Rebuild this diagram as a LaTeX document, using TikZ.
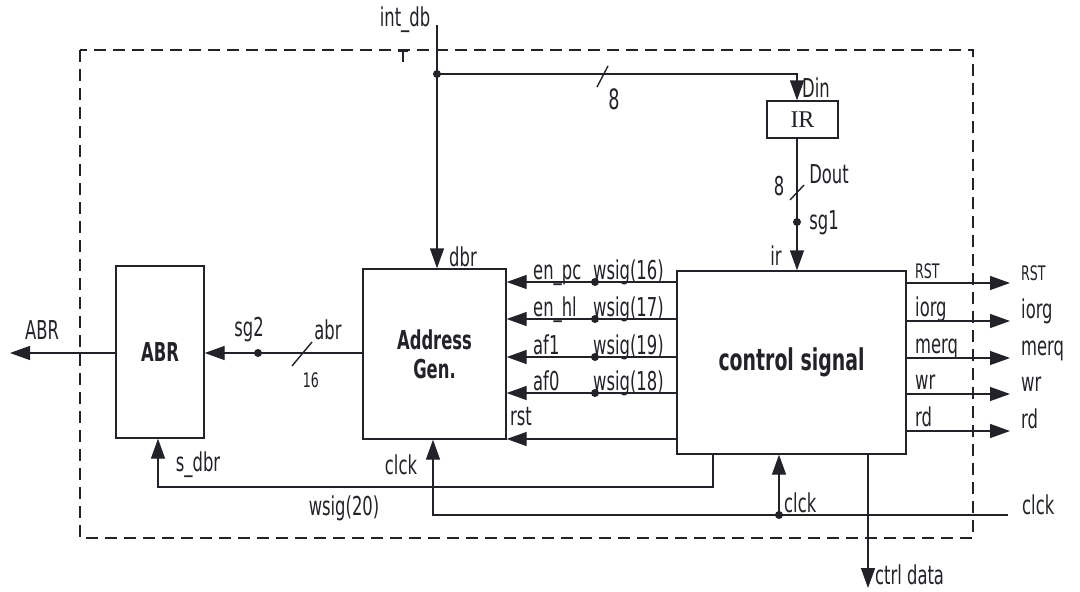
\documentclass[tikz,border=0pt]{standalone}
\usepackage{fontspec}
\setmainfont{DejaVu Sans}[FakeStretch=0.63]
\newfontfamily\irfont{Liberation Serif}
\usetikzlibrary{arrows.meta}
\definecolor{ink}{RGB}{34,34,40}
\begin{document}
\begin{tikzpicture}[x=1pt,y=-1pt,
  wire/.style={line width=1.4pt, draw=ink},
  arr/.style={wire, -{Triangle[length=20pt,width=14pt]}},
  box/.style={draw=ink, line width=1.4pt, inner sep=0pt, text=ink},
  lbl/.style={inner sep=0pt, text=ink, font=\fontsize{26}{28}\selectfont},
  small/.style={inner sep=0pt, text=ink, font=\fontsize{20}{22}\selectfont},
  boldlbl/.style={font=\bfseries\fontsize{26}{29}\selectfont, align=center},
  dot/.style={circle, fill=ink, inner sep=0pt, minimum size=8pt},
  frame/.style={draw=ink, line width=1.3pt, dash pattern=on 12pt off 7pt}
]
\useasboundingbox[fill=white] (0,0) rectangle (1080,592);

% dashed frame
\draw[frame] (80,50) rectangle (973,538);
\draw[wire, line width=1.1pt] (398,51) -- (408,51) (403,51) -- (403,62);

% blocks
\node[box, boldlbl, minimum width=88pt, minimum height=172pt] (abr) at (160,352) {ABR};
\node[box, boldlbl, minimum width=143pt, minimum height=170pt] (addr) at (434.5,354) {Address\\Gen.};
\node[box, minimum width=229pt, minimum height=183pt, font=\bfseries\fontsize{30}{32}\selectfont] (ctrl) at (791.5,362.5) {control signal};
\node[box, minimum width=71pt, minimum height=37pt, font=\irfont\fontsize{24}{26}\selectfont] (ir) at (802.5,119.5) {IR};

% int_db bus
\coordinate (intdb) at (437,25);
\node[dot] (dbdot) at (437,74) {};
\draw[arr] (intdb) -- (dbdot.center) -- (addr.north -| dbdot);
\coordinate (dinbend) at (797,74);
\draw[arr] (dbdot.center) -- (dinbend) -- (ir.north -| dinbend);
\draw[wire] (597,87) -- (608,66);
\node[lbl] (lintdb) at (405,20) {int\_db};
\node[lbl, font=\fontsize{28}{30}\selectfont] (l8a) at (614,99) {8};
\node[lbl] (ldin) at (816,88) {Din};
\node[lbl] (ldbr) at (463,257) {dbr};

% IR to control
\node[dot] (sg1) at (797,222) {};
\draw[arr] (ir.south -| sg1) -- (sg1.center) -- (ctrl.north -| sg1);
\draw[wire] (790,200) -- (804,185);
\node[lbl] (l8b) at (779,186) {8};
\node[lbl] (ldout) at (829,174) {Dout};
\node[lbl] (lsg1) at (824,223) {sg1};
\node[lbl] (lir) at (776,256) {ir};

% control -> address gen
\foreach \yy/\na/\nb/\nm in {282/en\_pc/wsig(16)/s16, 319/en\_hl/wsig(17)/s17, 357/af1/wsig(19)/s19, 393/af0/wsig(18)/s18}{
  \node[dot] (\nm) at (595,\yy) {};
  \draw[arr] (ctrl.west |- \nm) -- (\nm.center) -- (addr.east |- \nm);
  \node[lbl, anchor=base west] (l\nm a) at (533,\yy-3) {\na};
  \node[lbl, anchor=base west] (l\nm b) at (593,\yy-3) {\nb};
}
\coordinate (rsty) at (0,439);
\draw[arr] (ctrl.west |- rsty) -- (addr.east |- rsty);
\node[lbl] (lrst) at (521,417) {rst};

% address gen -> ABR
\node[dot] (sg2) at (258,353) {};
\draw[arr] (addr.west |- sg2) -- (sg2.center) -- (abr.east |- sg2);
\draw[wire] (292,366) -- (312,342);
\node[lbl] (lsg2) at (249,330) {sg2};
\node[lbl] (labr) at (328,330) {abr};
\node[small] (l16) at (311,380) {16};
\coordinate (abrout) at (10,353);
\draw[arr] (abr.west |- abrout) -- (abrout);
\node[lbl] (lABR) at (42,330) {ABR};

% control outputs
\foreach \yy/\txt/\st/\nm in {283/RST/small/o1, 321/iorg/lbl/o2, 358/merq/lbl/o3, 394/wr/lbl/o4, 431/rd/lbl/o5}{
  \coordinate (\nm) at (1010,\yy);
  \draw[arr] (ctrl.east |- \nm) -- (\nm);
  \node[\st, anchor=base west] (i\nm) at (915,\yy-5) {\txt};
  \node[\st, anchor=base west] (e\nm) at (1021,\yy-3) {\txt};
}

% s_dbr / wsig(20)
\coordinate (sa) at (713,487);
\coordinate (sb) at (158,487);
\draw[arr] (ctrl.south -| sa) -- (sa) -- (sb) -- (abr.south -| sb);
\node[lbl] (lsdbr) at (198,465) {s\_dbr};
\node[lbl] (lw20) at (344,508) {wsig(20)};

% clck
\coordinate (ck) at (1008,515);
\coordinate (cka) at (433,515);
\node[dot] (ckdot) at (779,515) {};
\draw[arr] (ck) -- (ckdot.center) -- (cka) -- (addr.south -| cka);
\draw[arr] (ckdot.center) -- (ctrl.south -| ckdot);
\node[lbl] (lck1) at (401,465) {clck};
\node[lbl, anchor=west] (lck2) at (784,503) {clck};
\node[lbl, anchor=west] (lck3) at (1022,505) {clck};

% ctrl data
\coordinate (cd) at (868,588);
\draw[arr] (ctrl.south -| cd) -- (cd);
\node[lbl, anchor=west] (lcd) at (875,575) {ctrl data};
\end{tikzpicture}
\end{document}
